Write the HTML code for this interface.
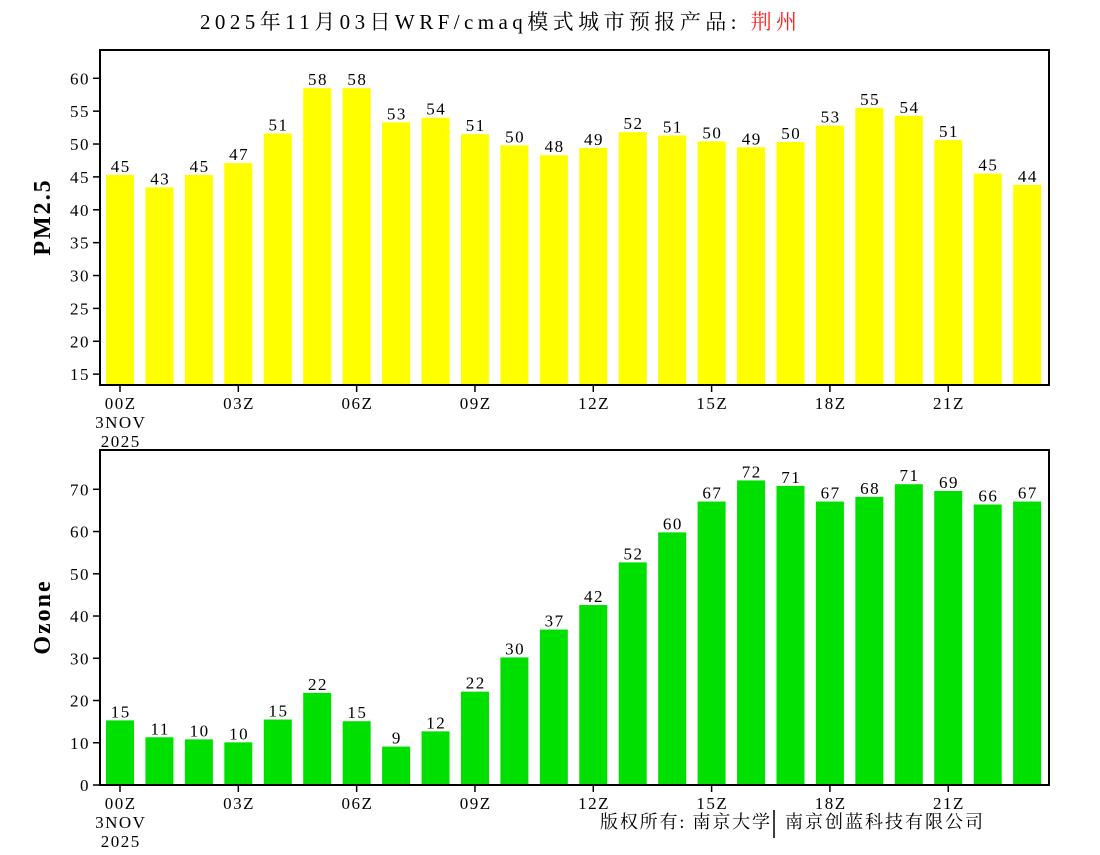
<!DOCTYPE html>
<html><head><meta charset="utf-8"><style>
body{margin:0;background:#fff;}
svg text{font-family:"Liberation Serif","Noto Serif CJK SC","Noto Sans CJK SC",serif;}
.n{letter-spacing:1.5px;}
</style></head><body>
<svg id="c" width="1100" height="850" xmlns="http://www.w3.org/2000/svg">
<text x="200" y="29" font-size="21" textLength="597" lengthAdjust="spacing">2025年11月03日WRF/cmaq模式城市预报产品: <tspan fill="#ff2020">荆州</tspan></text>
<text transform="translate(50,217) rotate(-90)" text-anchor="middle" font-size="24" font-weight="bold" letter-spacing="2">PM2.5</text>
<text transform="translate(50,617) rotate(-90)" text-anchor="middle" font-size="24" font-weight="bold" letter-spacing="2">Ozone</text>
<text x="600" y="828" font-size="18" textLength="170" lengthAdjust="spacing">版权所有: 南京大学</text>
<line x1="774" y1="810" x2="774" y2="838" stroke="#000" stroke-width="1.5"/>
<text x="785" y="828" font-size="18" textLength="198" lengthAdjust="spacing">南京创蓝科技有限公司</text>
</svg>
<script>
const pmValues=[45.3,43.4,45.3,47.1,51.6,58.5,58.5,53.3,54.0,51.5,49.8,48.3,49.4,51.8,51.3,50.4,49.5,50.3,52.8,55.5,54.3,50.6,45.5,43.8];
const pmLabels=[45,43,45,47,51,58,58,53,54,51,50,48,49,52,51,50,49,50,53,55,54,51,45,44];
const pmTicks=[15,20,25,30,35,40,45,50,55,60];
const o3Values=[15.3,11.3,10.8,10.1,15.5,21.8,15.1,9.1,12.7,22.1,30.2,36.8,42.6,52.7,59.8,67.1,72.1,70.8,67.1,68.2,71.2,69.6,66.4,67.1];
const o3Labels=[15,11,10,10,15,22,15,9,12,22,30,37,42,52,60,67,72,71,67,68,71,69,66,67];
const o3Ticks=[0,10,20,30,40,50,60,70];
const xTickLabels=['00Z','03Z','06Z','09Z','12Z','15Z','18Z','21Z'];
const NS='http://www.w3.org/2000/svg';
const svg=document.getElementById('c');
function mk(tag,attrs,parent){const e=document.createElementNS(NS,tag);for(const k in attrs)e.setAttribute(k,attrs[k]);(parent||svg).appendChild(e);return e;}
const xPos=i=>120+i*39.44;
function panel(name,top,bottom,vMin,vMax,values,labels,ticks,color){
  const y=v=>bottom-(v-vMin)/(vMax-vMin)*(bottom-top);
  const g=mk('g',{});
  
  
  values.forEach((v,i)=>{
    const r=mk('rect',{x:xPos(i)-14,y:y(v),width:28,height:bottom-y(v),fill:color},g);
    
    
    const t=mk('text',{x:xPos(i)+0.75,y:y(v)-3,'text-anchor':'middle','font-size':17,'class':'n'},g);
    
    
    t.textContent=labels[i];
  });
  const b=mk('rect',{x:100,y:top,width:949,height:bottom-top,fill:'none',stroke:'#000','stroke-width':2},g);
  
  
  ticks.forEach(tv=>{
    mk('line',{x1:100,x2:93,y1:y(tv),y2:y(tv),stroke:'#000','stroke-width':1.5},g);
    const t=mk('text',{x:90,y:y(tv)+6,'text-anchor':'end','font-size':17,'class':'n'},g);
    
    
    t.textContent=tv;
  });
  xTickLabels.forEach((l,k)=>{
    const x=xPos(k*3);
    mk('line',{x1:x,x2:x,y1:bottom,y2:bottom+7,stroke:'#000','stroke-width':1.5},g);
    const t=mk('text',{x:x+0.75,y:bottom+24,'text-anchor':'middle','font-size':17,'class':'n'},g);
    
    
    t.textContent=l;
  });
  ['3NOV','2025'].forEach((l,k)=>{
    const t=mk('text',{x:120.75,y:bottom+43+k*19,'text-anchor':'middle','font-size':17,'class':'n'},g);
    
    
    t.textContent=l;
  });
}
panel('pm25',50,385,13.35,64.3,pmValues,pmLabels,pmTicks,'#ffff00');
panel('ozone',450,785,0,79.3,o3Values,o3Labels,o3Ticks,'#00e000');
</script>
</body></html>
